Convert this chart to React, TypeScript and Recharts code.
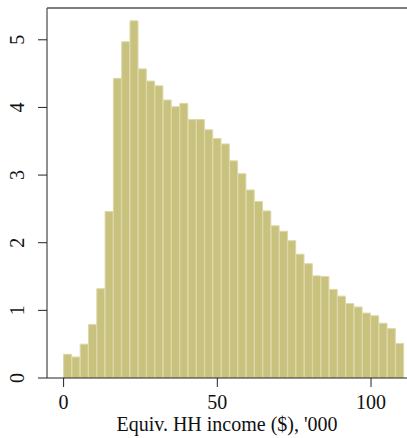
import * as React from "react"
import { BarChart, Bar, XAxis, YAxis } from "recharts"

// histogram bins, '000 dollars; each bin is BIN_WIDTH wide starting at 0
const BIN_WIDTH = 2.7
const density = [
  0.35, 0.31, 0.5, 0.79, 1.32, 2.46, 4.43, 4.97, 5.28, 4.57,
  4.39, 4.32, 4.11, 4.01, 4.06, 3.82, 3.82, 3.67, 3.54, 3.46,
  3.21, 3.02, 2.78, 2.61, 2.47, 2.25, 2.17, 2.03, 1.83, 1.69,
  1.51, 1.5, 1.31, 1.21, 1.1, 1.05, 0.96, 0.92, 0.81, 0.73,
  0.51,
]
const xTicks = [0, 50, 100]
const yTicks = [0, 1, 2, 3, 4, 5]

const data = density.map((d, i) => ({ mid: (i + 0.5) * BIN_WIDTH, density: d }))

const FONT = "'Liberation Serif', 'Times New Roman', serif"

function YTick(props: any) {
  const { y, payload } = props
  const tx = 24
  return (
    <text
      x={tx}
      y={y}
      transform={`rotate(-90, ${tx}, ${y})`}
      textAnchor="middle"
      fontFamily={FONT}
      fontSize={20}
      fill="#111"
    >
      {payload.value}
    </text>
  )
}

function XTick(props: any) {
  const { x, y, payload } = props
  return (
    <text
      x={x}
      y={y + 20}
      textAnchor="middle"
      fontFamily={FONT}
      fontSize={20}
      fill="#111"
    >
      {payload.value}
    </text>
  )
}

export default function App() {
  return (
    <div style={{ position: "absolute", left: 0, top: 0, background: "#fff" }}>
      <BarChart
        width={407}
        height={438}
        data={data}
        margin={{ top: 8, right: 0, left: 0, bottom: 0 }}
        barCategoryGap={0}
        barGap={0}
      >
        <XAxis
          dataKey="mid"
          type="number"
          domain={[-5.4, 111.7]}
          ticks={xTicks}
          allowDataOverflow
          height={60}
          stroke="#222"
          tickSize={9}
          tick={<XTick />}
          label={{
            value: "Equiv. HH income ($), '000",
            position: "insideBottom",
            offset: 7,
            fill: "#111",
            fontFamily: FONT,
            fontSize: 20,
          }}
        />
        <YAxis
          type="number"
          domain={[0, 5.47]}
          ticks={yTicks}
          allowDataOverflow
          width={47}
          stroke="#222"
          tickSize={9}
          tick={<YTick />}
        />
        <Bar
          dataKey="density"
          fill="#c9c27f"
          stroke="#ddd8a9"
          strokeWidth={1}
          isAnimationActive={false}
        />
      </BarChart>
      <svg
        width={407}
        height={438}
        style={{ position: "absolute", left: 0, top: 0, pointerEvents: "none" }}
      >
        <line x1={47} y1={8} x2={407} y2={8} stroke="#555" strokeWidth={1.5} />
      </svg>
    </div>
  )
}
